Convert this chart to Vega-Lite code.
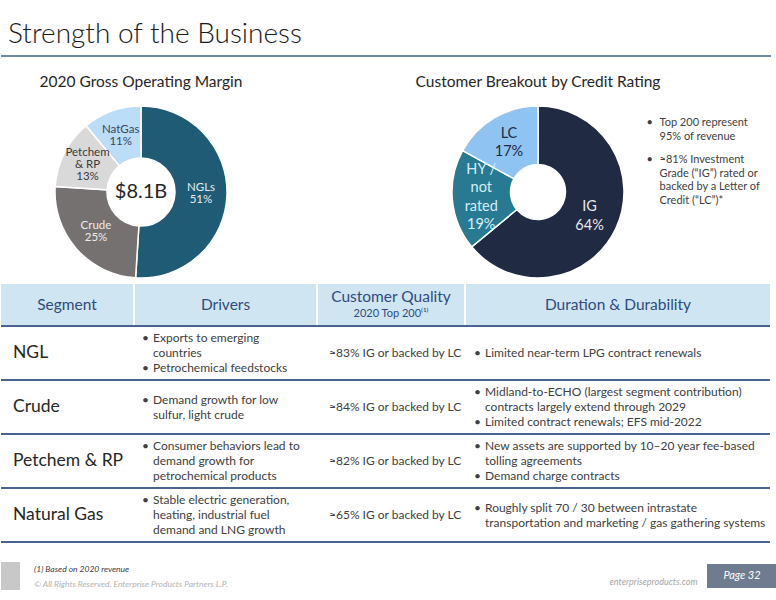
{
  "$schema": "https://vega.github.io/schema/vega-lite/v6.json",
  "background": "white",
  "padding": {"left": 0, "right": 0, "top": 21, "bottom": 0},
  "config": {
    "view": {"stroke": null},
    "font": "Lato",
    "text": {"font": "Lato"},
    "title": {"font": "Lato", "fontWeight": "normal", "color": "#262626"}
  },
  "datasets": {
    "margin": [
      {"segment": "NGLs", "share": 51, "rank": 1, "label": "NGLs\n51%"},
      {"segment": "Crude", "share": 25, "rank": 2, "label": "Crude\n25%"},
      {"segment": "Petchem & RP", "share": 13, "rank": 3, "label": "Petchem\n& RP\n13%"},
      {"segment": "NatGas", "share": 11, "rank": 4, "label": "NatGas\n11%"}
    ],
    "credit": [
      {"rating": "IG", "share": 64, "rank": 1, "label": "IG\n64%"},
      {"rating": "HY / not rated", "share": 19, "rank": 2, "label": "HY /\nnot\nrated\n19%"},
      {"rating": "LC", "share": 17, "rank": 3, "label": "LC\n17%"}
    ],
    "notes": [
      {"item": 1, "note": "Top 200 represent\n95% of revenue"},
      {"item": 2, "note": "≈81% Investment\nGrade (“IG”) rated or\nbacked by a Letter of\nCredit (“LC”)*"}
    ],
    "table": [
      {"segment": "NGL", "drivers": "Exports to emerging\ncountries\nPetrochemical feedstocks", "quality": "≈83% IG or backed by LC", "duration": "Limited near-term LPG contract renewals"},
      {"segment": "Crude", "drivers": "Demand growth for low\nsulfur, light crude", "quality": "≈84% IG or backed by LC", "duration": "Midland-to-ECHO (largest segment contribution)\ncontracts largely extend through 2029\nLimited contract renewals; EFS mid-2022"},
      {"segment": "Petchem & RP", "drivers": "Consumer behaviors lead to\ndemand growth for\npetrochemical products", "quality": "≈82% IG or backed by LC", "duration": "New assets are supported by 10–20 year fee-based\ntolling agreements\nDemand charge contracts"},
      {"segment": "Natural Gas", "drivers": "Stable electric generation,\nheating, industrial fuel\ndemand and LNG growth", "quality": "≈65% IG or backed by LC", "duration": "Roughly split 70 / 30 between intrastate\ntransportation and marketing / gas gathering systems"}
    ]
  },
  "bounds": "full",
  "spacing": 13,
  "vconcat": [
    {
      "width": 770,
      "height": 2,
      "view": {"fill": "#7089a8", "stroke": null},
      "title": {"text": "Strength of the Business", "anchor": "start", "fontSize": 28, "fontWeight": 300, "baseline": "alphabetic", "offset": -21, "dx": 7, "color": "#1a1a1a"},
      "data": {"values": [{"t": ""}]},
      "mark": "text",
      "encoding": {"text": {"field": "t"}}
    },
    {
      "bounds": "full",
      "spacing": 2,
      "vconcat": [
        {
          "bounds": "flush",
          "spacing": 8.5,
          "hconcat": [
            {
              "width": 280,
              "height": 180,
              "view": {"fill": "white", "stroke": null},
              "title": {"text": "2020 Gross Operating Margin", "fontSize": 15.5, "baseline": "alphabetic", "offset": 0, "anchor": "middle"},
              "layer": [
                {
                  "data": {"name": "margin"},
                  "mark": {"type": "arc", "outerRadius": 86, "innerRadius": 34, "stroke": "white", "strokeWidth": 1.5},
                  "encoding": {
                    "theta": {"field": "share", "type": "quantitative", "stack": true},
                    "order": {"field": "rank", "type": "quantitative"},
                    "color": {"field": "segment", "type": "nominal", "legend": null, "scale": {"domain": ["NGLs", "Crude", "Petchem & RP", "NatGas"], "range": ["#1f5b74", "#767171", "#d9d9d9", "#bbddf8"]}}
                  }
                },
                {
                  "data": {"name": "margin"},
                  "mark": {"type": "text", "radius": 60, "fontSize": 11.5, "lineHeight": 12, "lineBreak": "\n", "dy": -6},
                  "encoding": {
                    "theta": {"field": "share", "type": "quantitative", "stack": true},
                    "order": {"field": "rank", "type": "quantitative"},
                    "text": {"condition": {"test": "datum.segment !== 'Petchem & RP'", "field": "label", "type": "nominal"}, "value": ""},
                    "color": {"field": "segment", "type": "nominal", "legend": null, "scale": {"domain": ["NGLs", "Crude", "Petchem & RP", "NatGas"], "range": ["#e4ecf1", "#ececec", "#3a3a3a", "#3a4658"]}}
                  }
                },
                {
                  "data": {"name": "margin"},
                  "mark": {"type": "text", "radius": 60, "fontSize": 11.5, "lineHeight": 12, "lineBreak": "\n", "dy": -12},
                  "encoding": {
                    "theta": {"field": "share", "type": "quantitative", "stack": true},
                    "order": {"field": "rank", "type": "quantitative"},
                    "text": {"condition": {"test": "datum.segment === 'Petchem & RP'", "field": "label", "type": "nominal"}, "value": ""},
                    "color": {"field": "segment", "type": "nominal", "legend": null, "scale": {"domain": ["NGLs", "Crude", "Petchem & RP", "NatGas"], "range": ["#e4ecf1", "#ececec", "#3a3a3a", "#3a4658"]}}
                  }
                },
                {
                  "data": {"values": [{"total": "$8.1B"}]},
                  "mark": {"type": "text", "fontSize": 20, "color": "#262626"},
                  "encoding": {"text": {"field": "total"}}
                }
              ],
              "resolve": {"scale": {"color": "independent"}}
            },
            {
              "width": 139.5,
              "height": 180,
              "view": {"fill": "white", "stroke": null},
              "data": {"values": [{"t": ""}]},
              "mark": "text",
              "encoding": {"text": {"field": "t"}}
            },
            {
              "width": 200,
              "height": 180,
              "view": {"fill": "white", "stroke": null},
              "title": {"text": "Customer Breakout by Credit Rating", "fontSize": 15.5, "baseline": "alphabetic", "offset": 0, "anchor": "middle"},
              "layer": [
                {
                  "data": {"name": "credit"},
                  "mark": {"type": "arc", "outerRadius": 86, "innerRadius": 27.5, "stroke": "white", "strokeWidth": 1.5},
                  "encoding": {
                    "theta": {"field": "share", "type": "quantitative", "stack": true},
                    "order": {"field": "rank", "type": "quantitative"},
                    "color": {"field": "rating", "type": "nominal", "legend": null, "scale": {"domain": ["IG", "HY / not rated", "LC"], "range": ["#212a43", "#287a93", "#8ec3f2"]}}
                  }
                },
                {
                  "data": {"name": "credit"},
                  "mark": {"type": "text", "radius": 57, "fontSize": 14.5, "lineHeight": 18.5, "lineBreak": "\n", "dy": -9.25},
                  "encoding": {
                    "theta": {"field": "share", "type": "quantitative", "stack": true},
                    "order": {"field": "rank", "type": "quantitative"},
                    "text": {"condition": {"test": "datum.rating !== 'HY / not rated'", "field": "label", "type": "nominal"}, "value": ""},
                    "color": {"field": "rating", "type": "nominal", "legend": null, "scale": {"domain": ["IG", "HY / not rated", "LC"], "range": ["#e8e8e8", "#d6eef8", "#1f2a44"]}}
                  }
                },
                {
                  "data": {"name": "credit"},
                  "mark": {"type": "text", "radius": 57, "fontSize": 14.5, "lineHeight": 18.5, "lineBreak": "\n", "dy": -27.75},
                  "encoding": {
                    "theta": {"field": "share", "type": "quantitative", "stack": true},
                    "order": {"field": "rank", "type": "quantitative"},
                    "text": {"condition": {"test": "datum.rating === 'HY / not rated'", "field": "label", "type": "nominal"}, "value": ""},
                    "color": {"field": "rating", "type": "nominal", "legend": null, "scale": {"domain": ["IG", "HY / not rated", "LC"], "range": ["#e8e8e8", "#d6eef8", "#1f2a44"]}}
                  }
                }
              ],
              "resolve": {"scale": {"color": "independent"}}
            },
            {
              "width": 124,
              "height": 74,
              "view": {"fill": "white", "stroke": null},
              "data": {"name": "notes"},
              "encoding": {
                "x": {"datum": 0, "type": "quantitative", "scale": {"domain": [0, 1]}, "axis": null},
                "y": {"field": "item", "type": "nominal", "axis": null, "scale": {"paddingInner": 0, "paddingOuter": 0}}
              },
              "layer": [
                {
                  "mark": {"type": "text", "text": "•", "align": "left", "baseline": "top", "fontSize": 11, "dy": -3.3, "color": "#404040"}
                },
                {
                  "mark": {"type": "text", "align": "left", "baseline": "top", "fontSize": 11, "lineHeight": 13.5, "lineBreak": "\n", "dy": -3.3, "dx": 13, "color": "#404040"},
                  "encoding": {"text": {"field": "note"}}
                }
              ]
            }
          ]
        },
        {
          "bounds": "full",
          "spacing": 0,
          "vconcat": [
            {
              "bounds": "flush",
              "spacing": 2,
              "hconcat": [
                {
                  "width": 132, "height": 41,
                  "view": {"fill": "#cfe6f2", "stroke": null},
                  "data": {"values": [{"h": "Segment"}]},
                  "mark": {"type": "text", "fontSize": 15.5, "color": "#2f4b7c"},
                  "encoding": {"text": {"field": "h"}}
                },
                {
                  "width": 181, "height": 41,
                  "view": {"fill": "#cfe6f2", "stroke": null},
                  "data": {"values": [{"h": "Drivers"}]},
                  "mark": {"type": "text", "fontSize": 15.5, "color": "#2f4b7c"},
                  "encoding": {"text": {"field": "h"}}
                },
                {
                  "width": 146, "height": 41,
                  "view": {"fill": "#cfe6f2", "stroke": null},
                  "data": {"values": [{"h": "Customer Quality", "s": "2020 Top 200⁽¹⁾"}]},
                  "layer": [
                    {"mark": {"type": "text", "fontSize": 15.5, "color": "#2f4b7c", "dy": -7.5}, "encoding": {"text": {"field": "h"}}},
                    {"mark": {"type": "text", "fontSize": 11, "color": "#2f4b7c", "dy": 9}, "encoding": {"text": {"field": "s"}}}
                  ]
                },
                {
                  "width": 304, "height": 41,
                  "view": {"fill": "#cfe6f2", "stroke": null},
                  "data": {"values": [{"h": "Duration & Durability"}]},
                  "mark": {"type": "text", "fontSize": 15.5, "color": "#2f4b7c"},
                  "encoding": {"text": {"field": "h"}}
                }
              ]
            },
            {
              "bounds": "full",
              "spacing": 18,
              "vconcat": [
                {
                  "bounds": "flush",
                  "spacing": 0,
                  "hconcat": [
                    {
                      "width": 133, "height": 216,
                      "view": {"fill": "white", "stroke": null},
                      "data": {"name": "table"},
                      "encoding": {
                        "y": {"field": "segment", "type": "nominal", "axis": null, "scale": {"domain": ["NGL", "Crude", "Petchem & RP", "Natural Gas"], "paddingInner": 0, "paddingOuter": 0}}
                      },
                      "layer": [
                        {
                          "mark": {"type": "text", "align": "left", "fontSize": 17.5, "dx": 12, "color": "#262626"},
                          "encoding": {
                            "x": {"datum": 0, "type": "quantitative", "scale": {"domain": [0, 1]}, "axis": null},
                            "text": {"field": "segment"}
                          }
                        },
                        {
                          "mark": {"type": "rule", "color": "#4a6390", "strokeWidth": 2},
                          "encoding": {"y": {"field": "segment", "type": "nominal", "axis": null, "bandPosition": 0}}
                        },
                        {
                          "transform": [{"filter": {"field": "segment", "equal": "Natural Gas"}}],
                          "mark": {"type": "rule", "color": "#4a6390", "strokeWidth": 2},
                          "encoding": {"y": {"field": "segment", "type": "nominal", "axis": null, "bandPosition": 1}}
                        }
                      ]
                    },
                    {
                      "width": 183, "height": 216,
                      "view": {"fill": "white", "stroke": null},
                      "data": {"name": "table"},
                      "encoding": {
                        "x": {"datum": 0, "type": "quantitative", "scale": {"domain": [0, 1]}, "axis": null},
                        "y": {"field": "segment", "type": "nominal", "axis": null, "scale": {"domain": ["NGL", "Crude", "Petchem & RP", "Natural Gas"], "paddingInner": 0, "paddingOuter": 0}}
                      },
                      "layer": [
                        {
                          "transform": [{"filter": {"field": "segment", "oneOf": ["NGL", "Petchem & RP", "Natural Gas"]}}],
                          "mark": {"type": "text", "align": "left", "fontSize": 12, "lineHeight": 15, "lineBreak": "\n", "dx": 19, "dy": -15, "color": "#404040"},
                          "encoding": {"text": {"field": "drivers"}}
                        },
                        {
                          "transform": [{"filter": {"field": "segment", "oneOf": ["NGL", "Petchem & RP", "Natural Gas"]}}],
                          "mark": {"type": "text", "text": "•", "align": "left", "fontSize": 12, "dx": 8, "dy": -15, "color": "#404040"}
                        },
                        {
                          "transform": [{"filter": {"field": "segment", "oneOf": ["NGL"]}}],
                          "mark": {"type": "text", "text": "•", "align": "left", "fontSize": 12, "dx": 8, "dy": 15, "color": "#404040"}
                        },
                        {
                          "transform": [{"filter": {"field": "segment", "oneOf": ["Crude"]}}],
                          "mark": {"type": "text", "align": "left", "fontSize": 12, "lineHeight": 15, "lineBreak": "\n", "dx": 19, "dy": -7.5, "color": "#404040"},
                          "encoding": {"text": {"field": "drivers"}}
                        },
                        {
                          "transform": [{"filter": {"field": "segment", "oneOf": ["Crude"]}}],
                          "mark": {"type": "text", "text": "•", "align": "left", "fontSize": 12, "dx": 8, "dy": -7.5, "color": "#404040"}
                        },
                        {
                          "mark": {"type": "rule", "color": "#4a6390", "strokeWidth": 2},
                          "encoding": {"x": null, "y": {"field": "segment", "type": "nominal", "axis": null, "bandPosition": 0}}
                        },
                        {
                          "transform": [{"filter": {"field": "segment", "equal": "Natural Gas"}}],
                          "mark": {"type": "rule", "color": "#4a6390", "strokeWidth": 2},
                          "encoding": {"x": null, "y": {"field": "segment", "type": "nominal", "axis": null, "bandPosition": 1}}
                        }
                      ]
                    },
                    {
                      "width": 148, "height": 216,
                      "view": {"fill": "white", "stroke": null},
                      "data": {"name": "table"},
                      "encoding": {
                        "y": {"field": "segment", "type": "nominal", "axis": null, "scale": {"domain": ["NGL", "Crude", "Petchem & RP", "Natural Gas"], "paddingInner": 0, "paddingOuter": 0}}
                      },
                      "layer": [
                        {
                          "mark": {"type": "text", "align": "left", "fontSize": 12, "dx": 12, "color": "#404040"},
                          "encoding": {
                            "x": {"datum": 0, "type": "quantitative", "scale": {"domain": [0, 1]}, "axis": null},
                            "text": {"field": "quality"}
                          }
                        },
                        {
                          "mark": {"type": "rule", "color": "#4a6390", "strokeWidth": 2},
                          "encoding": {"y": {"field": "segment", "type": "nominal", "axis": null, "bandPosition": 0}}
                        },
                        {
                          "transform": [{"filter": {"field": "segment", "equal": "Natural Gas"}}],
                          "mark": {"type": "rule", "color": "#4a6390", "strokeWidth": 2},
                          "encoding": {"y": {"field": "segment", "type": "nominal", "axis": null, "bandPosition": 1}}
                        }
                      ]
                    },
                    {
                      "width": 305, "height": 216,
                      "view": {"fill": "white", "stroke": null},
                      "data": {"name": "table"},
                      "encoding": {
                        "x": {"datum": 0, "type": "quantitative", "scale": {"domain": [0, 1]}, "axis": null},
                        "y": {"field": "segment", "type": "nominal", "axis": null, "scale": {"domain": ["NGL", "Crude", "Petchem & RP", "Natural Gas"], "paddingInner": 0, "paddingOuter": 0}}
                      },
                      "layer": [
                        {
                          "transform": [{"filter": {"field": "segment", "oneOf": ["NGL"]}}],
                          "mark": {"type": "text", "align": "left", "fontSize": 12, "lineHeight": 15, "lineBreak": "\n", "dx": 20, "dy": 0, "color": "#404040"},
                          "encoding": {"text": {"field": "duration"}}
                        },
                        {
                          "transform": [{"filter": {"field": "segment", "oneOf": ["NGL"]}}],
                          "mark": {"type": "text", "text": "•", "align": "left", "fontSize": 12, "dx": 9, "dy": 0, "color": "#404040"}
                        },
                        {
                          "transform": [{"filter": {"field": "segment", "oneOf": ["Crude", "Petchem & RP"]}}],
                          "mark": {"type": "text", "align": "left", "fontSize": 12, "lineHeight": 15, "lineBreak": "\n", "dx": 20, "dy": -15, "color": "#404040"},
                          "encoding": {"text": {"field": "duration"}}
                        },
                        {
                          "transform": [{"filter": {"field": "segment", "oneOf": ["Crude", "Petchem & RP"]}}],
                          "mark": {"type": "text", "text": "•", "align": "left", "fontSize": 12, "dx": 9, "dy": -15, "color": "#404040"}
                        },
                        {
                          "transform": [{"filter": {"field": "segment", "oneOf": ["Crude", "Petchem & RP"]}}],
                          "mark": {"type": "text", "text": "•", "align": "left", "fontSize": 12, "dx": 9, "dy": 15, "color": "#404040"}
                        },
                        {
                          "transform": [{"filter": {"field": "segment", "oneOf": ["Natural Gas"]}}],
                          "mark": {"type": "text", "align": "left", "fontSize": 12, "lineHeight": 15, "lineBreak": "\n", "dx": 20, "dy": -7.5, "color": "#404040"},
                          "encoding": {"text": {"field": "duration"}}
                        },
                        {
                          "transform": [{"filter": {"field": "segment", "oneOf": ["Natural Gas"]}}],
                          "mark": {"type": "text", "text": "•", "align": "left", "fontSize": 12, "dx": 9, "dy": -7.5, "color": "#404040"}
                        },
                        {
                          "mark": {"type": "rule", "color": "#4a6390", "strokeWidth": 2},
                          "encoding": {"x": null, "y": {"field": "segment", "type": "nominal", "axis": null, "bandPosition": 0}}
                        },
                        {
                          "transform": [{"filter": {"field": "segment", "equal": "Natural Gas"}}],
                          "mark": {"type": "rule", "color": "#4a6390", "strokeWidth": 2},
                          "encoding": {"x": null, "y": {"field": "segment", "type": "nominal", "axis": null, "bandPosition": 1}}
                        }
                      ]
                    }
                  ]
                },
                {
                  "bounds": "flush",
                  "spacing": 0,
                  "center": true,
                  "hconcat": [
                    {
                      "width": 19, "height": 28,
                      "view": {"fill": "#c8c8c8", "stroke": null},
                      "data": {"values": [{"t": ""}]},
                      "mark": "text",
                      "encoding": {"text": {"field": "t"}}
                    },
                    {
                      "width": 580, "height": 30,
                      "view": {"fill": "white", "stroke": null},
                      "data": {"values": [{"line": 1, "note": "(1)  Based on 2020 revenue"}, {"line": 2, "note": "© All Rights Reserved. Enterprise Products Partners L.P."}]},
                      "mark": {"type": "text", "align": "left", "fontStyle": "italic", "fontSize": 8.5, "dx": 14},
                      "encoding": {
                        "x": {"datum": 0, "type": "quantitative", "scale": {"domain": [0, 1]}, "axis": null},
                        "y": {"field": "line", "type": "nominal", "axis": null, "scale": {"paddingInner": 0, "paddingOuter": 0}},
                        "text": {"field": "note"},
                        "color": {"field": "line", "type": "nominal", "legend": null, "scale": {"range": ["#404040", "#b3b3b3"]}}
                      }
                    },
                    {
                      "width": 107, "height": 30,
                      "view": {"fill": "white", "stroke": null},
                      "data": {"values": [{"u": "enterpriseproducts.com"}]},
                      "mark": {"type": "text", "fontStyle": "italic", "fontSize": 9, "color": "#a6a6a6", "dy": 6},
                      "encoding": {"text": {"field": "u"}}
                    },
                    {
                      "width": 70, "height": 24,
                      "view": {"fill": "#6f7b8f", "stroke": null},
                      "data": {"values": [{"p": "Page 32"}]},
                      "mark": {"type": "text", "fontStyle": "italic", "fontSize": 11, "color": "white"},
                      "encoding": {"text": {"field": "p"}}
                    }
                  ]
                }
              ]
            }
          ]
        }
      ]
    }
  ]
}
